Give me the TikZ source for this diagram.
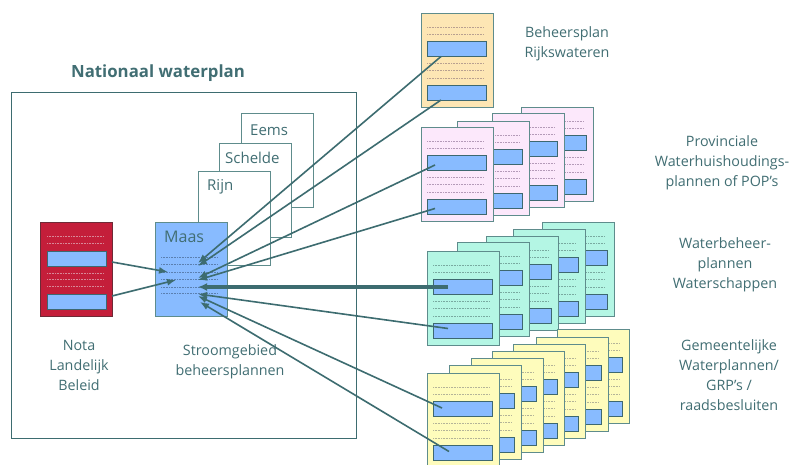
\documentclass[tikz,border=0pt]{standalone}
\usepackage{fontspec}
\setmainfont{Open Sans}
\usetikzlibrary{calc,arrows.meta}
\definecolor{tealline}{HTML}{3D6C70}
\definecolor{labtext}{HTML}{416E73}
\definecolor{docedge}{HTML}{5E8C8C}
\definecolor{baredge}{HTML}{3D6870}
\definecolor{barblue}{HTML}{88BBFF}
\definecolor{orangefill}{HTML}{FDE6B4}
\definecolor{orangedot}{HTML}{B8A090}
\definecolor{pinkfill}{HTML}{FCE8FB}
\definecolor{pinkdot}{HTML}{B49AB8}
\definecolor{mintfill}{HTML}{B4F6E4}
\definecolor{mintdot}{HTML}{78AAA0}
\definecolor{yellowfill}{HTML}{FEFCBC}
\definecolor{yellowdot}{HTML}{B4B498}
\definecolor{redfill}{HTML}{C41E3A}
\definecolor{rededge}{HTML}{6E2A36}
\definecolor{reddot}{HTML}{D88898}
\definecolor{maasdot}{HTML}{5A7FB0}
\newcommand\pdoc[5]{%
  \node[docbox, fill=#4] (#1) at (#2,#3) {};
  \foreach \dy in {14,21,50,57,65}{\draw[dotln, draw=#5] ($(#1.north west)+(6,\dy)$) -- ++(57,0);}
  \node[barbox] (#1-b1) at ($(#1.north west)+(6,28.5)$) {};
  \node[barbox] (#1-b2) at ($(#1.north west)+(6,72)$) {};
}
\begin{document}
\begin{tikzpicture}[x=1pt,y=-1pt,
  font=\fontsize{14.3}{20}\selectfont,
  docbox/.style={draw=docedge, line width=1pt, minimum width=72pt, minimum height=94pt, inner sep=0pt, outer sep=0pt, anchor=north west},
  barbox/.style={draw=baredge, fill=barblue, line width=1pt, minimum width=59pt, minimum height=15pt, inner sep=0pt, outer sep=0pt, anchor=north west},
  dotln/.style={line width=0.8pt, dash pattern=on 1pt off 0.6pt},
  conn/.style={draw=tealline, line width=1.6pt, -{Latex[length=9pt,width=7pt]}},
  thickconn/.style={draw=tealline, line width=3.2pt, -{Latex[length=9pt,width=8pt]}},
  lbl/.style={text=labtext, align=center, inner sep=0pt},
  plainlbl/.style={text=labtext, inner sep=0pt, anchor=west}]
\useasboundingbox (0,0) rectangle (796,464);
\fill[white] (0,0) rectangle (796,464);

% Nationaal waterplan frame
\node[lbl, font=\fontsize{16.8}{20}\selectfont\bfseries] (title) at (158,73) {Nationaal waterplan};
\node[draw=tealline, line width=1pt, inner sep=0pt, minimum width=345pt, minimum height=346pt, anchor=north west] (frame) at (11,92) {};

% Nota Landelijk Beleid
\node[docbox, fill=redfill, draw=rededge] (nota) at (40,222) {};
\foreach \dy in {14,21,51,57,64}{\draw[dotln, draw=reddot] ($(nota.north west)+(7,\dy)$) -- ++(57,0);}
\node[barbox] (nota-b1) at ($(nota.north west)+(7,29)$) {};
\node[barbox] (nota-b2) at ($(nota.north west)+(7,72)$) {};
\node[lbl] (notalbl) at (79,365) {Nota\\Landelijk\\Beleid};

% Stroomgebied stack
\node[docbox, fill=white] (eems) at (241,113) {};
\node[plainlbl, font=\fontsize{15}{20}\selectfont] (eemslbl) at ($(eems.north west)+(9,17)$) {Eems};
\node[docbox, fill=white] (schelde) at (219,143) {};
\node[plainlbl, font=\fontsize{15}{20}\selectfont] (scheldelbl) at ($(schelde.north west)+(6,15)$) {Schelde};
\node[docbox, fill=white] (rijn) at (198,171) {};
\node[plainlbl, font=\fontsize{15}{20}\selectfont] (rijnlbl) at ($(rijn.north west)+(9,16)$) {Rijn};
\node[docbox, fill=barblue] (maas) at (155,222) {};
\node[plainlbl, font=\fontsize{16}{20}\selectfont] (maaslbl) at ($(maas.north west)+(9,15)$) {Maas};
\foreach \dy in {35,42,50,57,65,71}{\draw[dotln, draw=maasdot] ($(maas.north west)+(6,\dy)$) -- ++(57,0);}
\node[lbl] (stroomlbl) at (230,362) {Stroomgebied\\beheersplannen};

% Beheersplan Rijkswateren
\pdoc{beh}{421}{13}{orangefill}{orangedot}
\node[lbl] (behlbl) at (567,44) {Beheersplan\\Rijkswateren};

% Provinciale plannen
\pdoc{p1}{521}{107}{pinkfill}{pinkdot}
\pdoc{p2}{492}{113}{pinkfill}{pinkdot}
\pdoc{p3}{457}{121}{pinkfill}{pinkdot}
\pdoc{p4}{421}{127}{pinkfill}{pinkdot}
\node[lbl] (provlbl) at (722,163) {Provinciale\\Waterhuishoudings-\\plannen of POP’s};

% Waterschappen
\pdoc{w1}{542}{222}{mintfill}{mintdot}
\pdoc{w2}{513}{229}{mintfill}{mintdot}
\pdoc{w3}{486}{236}{mintfill}{mintdot}
\pdoc{w4}{457}{242}{mintfill}{mintdot}
\pdoc{w5}{427}{251}{mintfill}{mintdot}
\node[lbl] (watlbl) at (725,265) {Waterbeheer-\\plannen\\Waterschappen};

% Gemeentelijke plannen
\pdoc{g1}{557}{329}{yellowfill}{yellowdot}
\pdoc{g2}{536}{337}{yellowfill}{yellowdot}
\pdoc{g3}{513}{344}{yellowfill}{yellowdot}
\pdoc{g4}{492}{351}{yellowfill}{yellowdot}
\pdoc{g5}{471}{358}{yellowfill}{yellowdot}
\pdoc{g6}{449}{365}{yellowfill}{yellowdot}
\pdoc{g7}{427}{373}{yellowfill}{yellowdot}
\node[lbl] (gemlbl) at (729,375) {Gemeentelijke\\Waterplannen/\\GRP’s /\\raadsbesluiten};

% connector end points on Maas
\coordinate (n1) at ($(maas.north west)+(13,50)$);
\coordinate (n2) at ($(maas.north west)+(21,58)$);
\coordinate (m1) at ($(maas.north west)+(43,41)$);
\coordinate (m2) at ($(maas.north west)+(43,44)$);
\coordinate (m3) at ($(maas.north west)+(43,56)$);
\coordinate (m4) at ($(maas.north west)+(43,58)$);
\coordinate (m5) at ($(maas.north west)+(43,65)$);
\coordinate (m6) at ($(maas.north west)+(43,72)$);
\coordinate (m7) at ($(maas.north west)+(43,74)$);
\coordinate (m8) at ($(maas.north west)+(45,80)$);

% connector start points
\coordinate (sn1) at ($(nota.north east)+(0,40)$);
\coordinate (sn2) at ($(nota.north east)+(0,74)$);
\coordinate (sb1) at ($(beh-b1.south west)+(14,0)$);
\coordinate (sb2) at ($(beh-b2.south west)+(14,0)$);
\coordinate (sp1) at ($(p4-b1.west)+(8,2)$);
\coordinate (sp2) at ($(p4-b2.west)+(8,2)$);
\coordinate (sw1) at ($(w5-b1.west)+(15,0)$);
\coordinate (sw2) at ($(w5-b2.west)+(15,-2)$);
\coordinate (sg1) at ($(g7-b1.west)+(9,-1)$);
\coordinate (sg2) at ($(g7-b2.west)+(16,-1)$);

\draw[conn] (sn1) -- (n1);
\draw[conn] (sn2) -- (n2);
\draw[conn] (sb1) -- (m1);
\draw[conn] (sb2) -- (m2);
\draw[conn] (sp1) -- (m3);
\draw[conn] (sp2) -- (m4);
\draw[thickconn] (sw1) -- (m5);
\draw[conn] (sw2) -- (m6);
\draw[conn] (sg1) -- (m7);
\draw[conn] (sg2) -- (m8);
\end{tikzpicture}
\end{document}
